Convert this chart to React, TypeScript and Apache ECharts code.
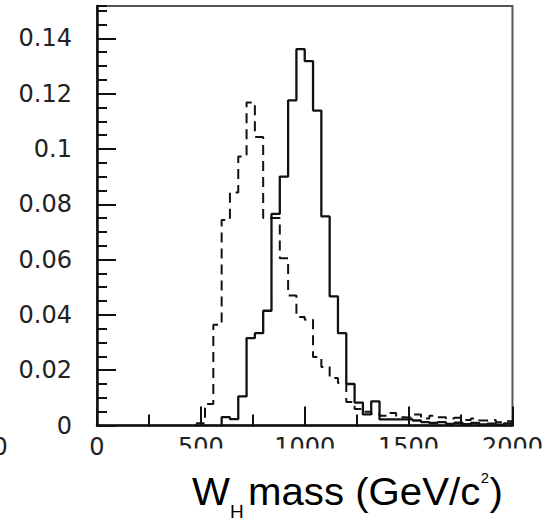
import React, { useEffect, useRef } from "react";
import * as echarts from "echarts";

// ---- data ----
const BIN_WIDTH = 40;
const X_MIN = 0;
const X_MAX = 2000;
const Y_MIN = 0;
const Y_MAX = 0.1517;
const X_TICK_LABELS = ["0", "500", "1000", "1500", "2000"];
const Y_TICK_LABELS = ["0", "0.02", "0.04", "0.06", "0.08", "0.1", "0.12", "0.14"];

// solid histogram: bins of 40 GeV starting at 600
const solidStart = 600;
const solidValues = [
  0.003, 0.0023, 0.0105, 0.0316, 0.0334, 0.0415, 0.0765, 0.09, 0.1176, 0.1361,
  0.1318, 0.1139, 0.0756, 0.0467, 0.0334, 0.015, 0.0083, 0.004, 0.0087, 0.0022,
  0.0022, 0.0022, 0.0022, 0.0018, 0.0012, 0.0009, 0.0012, 0.0006, 0.001, 0.0005,
  0.0009, 0.0004, 0.0007, 0.0003, 0.0008,
];

// dashed histogram: bins of 40 GeV starting at 480
const dashedStart = 480;
const dashedValues = [
  0.0008, 0.0078, 0.0364, 0.0743, 0.0843, 0.0973, 0.1168, 0.1043, 0.075, 0.075,
  0.0605, 0.047, 0.0392, 0.0382, 0.0248, 0.0212, 0.0172, 0.0154, 0.0085, 0.006,
  0.005, 0.0042, 0.0035, 0.0045, 0.003, 0.0028, 0.004, 0.0025, 0.0035, 0.003,
  0.0025, 0.0028, 0.002, 0.0025, 0.0018, 0.002, 0.0012, 0.0015,
];

function toSteps(start: number, values: number[]): number[][] {
  const pts: number[][] = [[start, 0]];
  values.forEach((v, i) => pts.push([start + i * BIN_WIDTH, v]));
  pts.push([start + values.length * BIN_WIDTH, 0]);
  return pts;
}

function measure(text: string, size: number): number {
  const c = document.createElement("canvas").getContext("2d");
  if (!c) return text.length * size * 0.55;
  c.font = `${size}px "Liberation Sans"`;
  return c.measureText(text).width;
}

export default function App() {
  const ref = useRef<HTMLDivElement>(null);

  useEffect(() => {
    if (!ref.current) return;
    const chart = echarts.init(ref.current, undefined, { renderer: "svg" });

    const FONT = "Liberation Sans";
    const mainFs = 38;
    const subFs = 18;
    const supFs = 14;
    const wW = measure("W", mainFs);
    const wH = measure("H", subFs);
    const massText = "mass (GeV/c";
    const wMass = measure(massText, mainFs);
    const w2 = measure("2", supFs);
    const wP = measure(")", mainFs);
    const xH = wW;
    const xMass = xH + wH + 4;
    const x2 = xMass + wMass + 0.5;
    const xP = x2 + w2 + 0.5;
    const total = xP + wP;
    const scaleX = 311 / total;
    const mainY = 491.8;

    const tickColor = "#111";
    const labelColor = "#222";

    chart.setOption({
      animation: false,
      backgroundColor: "#fff",
      grid: {
        left: 97,
        top: 6,
        width: 415.5,
        height: 419.5,
        show: true,
        borderColor: "#555",
        borderWidth: 2,
        backgroundColor: "transparent",
      },
      xAxis: {
        type: "value",
        min: X_MIN,
        max: X_MAX,
        interval: 500,
        axisLine: { show: true, lineStyle: { color: tickColor, width: 2.5 } },
        axisTick: { show: true, inside: true, length: 19, lineStyle: { color: tickColor, width: 2 } },
        minorTick: { show: true, splitNumber: 2, length: 11, lineStyle: { color: tickColor, width: 2 } },
        splitLine: { show: false },
        minorSplitLine: { show: false },
        axisLabel: {
          margin: 9,
          fontSize: 24,
          fontFamily: "DejaVu Sans",
          color: labelColor,
          formatter: (v: number) => X_TICK_LABELS[Math.round(v / 500)] ?? String(v),
        },
      },
      yAxis: [
        {
          type: "value",
          min: Y_MIN,
          max: Y_MAX,
          interval: 0.02,
          axisLine: { show: true, lineStyle: { color: tickColor, width: 2.5 } },
          axisTick: { show: true, inside: true, length: 19, lineStyle: { color: tickColor, width: 2 } },
          splitLine: { show: false },
          axisLabel: {
            margin: 25,
            fontSize: 24,
            fontFamily: "DejaVu Sans",
            color: labelColor,
            showMaxLabel: false,
            formatter: (v: number) => Y_TICK_LABELS[Math.round(v / 0.02)] ?? "",
          },
        },
        {
          type: "value",
          min: Y_MIN,
          max: Y_MAX,
          interval: 0.005,
          position: "left",
          axisLine: { show: false },
          axisTick: { show: true, inside: true, length: 10, lineStyle: { color: tickColor, width: 2 } },
          axisLabel: { show: false },
          splitLine: { show: false },
        },
      ],
      series: [
        {
          name: "dashed",
          type: "line",
          step: "end",
          symbol: "none",
          data: toSteps(dashedStart, dashedValues),
          lineStyle: { color: "#111", width: 2, type: [10, 6] },
          z: 3,
        },
        {
          name: "solid",
          type: "line",
          step: "end",
          symbol: "none",
          data: toSteps(solidStart, solidValues),
          lineStyle: { color: "#111", width: 2.3, type: "solid" },
          z: 4,
        },
      ],
      graphic: [
        {
          type: "rect",
          z: 100,
          shape: { x: 150, y: 448.5, width: 396, height: 22 },
          style: { fill: "#fff" },
        },
        {
          type: "text",
          z: 100,
          x: -7.5,
          y: 447,
          style: {
            text: "0",
            font: '24px "DejaVu Sans"',
            fill: labelColor,
            align: "left",
            verticalAlign: "middle",
          },
        },
        {
          type: "group",
          x: 192,
          y: 0,
          scaleX: scaleX,
          z: 100,
          children: [
            { type: "text", x: 0, y: mainY, style: { text: "W", font: `${mainFs}px "${FONT}"`, fill: "#000", align: "left", verticalAlign: "middle" } },
            { type: "text", x: xH, y: 511.8, style: { text: "H", font: `${subFs}px "${FONT}"`, fill: "#000", align: "left", verticalAlign: "middle" } },
            { type: "text", x: xMass, y: mainY, style: { text: massText, font: `${mainFs}px "${FONT}"`, fill: "#000", align: "left", verticalAlign: "middle" } },
            { type: "text", x: x2, y: 478, style: { text: "2", font: `${supFs}px "${FONT}"`, fill: "#000", align: "left", verticalAlign: "middle" } },
            { type: "text", x: xP, y: mainY, style: { text: ")", font: `${mainFs}px "${FONT}"`, fill: "#000", align: "left", verticalAlign: "middle" } },
          ],
        },
      ],
    });

    return () => chart.dispose();
  }, []);

  return (
    <div
      ref={ref}
      style={{ position: "absolute", left: 0, top: 0, width: 546, height: 521 }}
    />
  );
}
